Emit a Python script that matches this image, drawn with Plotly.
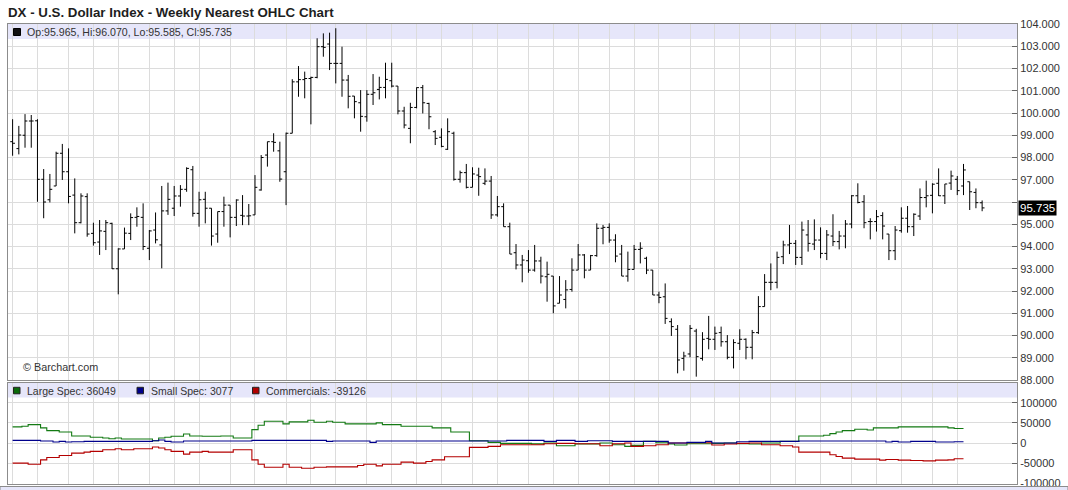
import plotly.graph_objects as go
import pandas as pd

# ---------------- data ----------------
start_date = "2016-01-04"
n_weeks = 157
week_dates = pd.date_range(start_date, periods=n_weeks, freq="7D")

open_ = [98.71, 98.40, 99.00, 99.64, 99.65, 97.02, 96.10, 96.72, 98.19, 97.36,
         96.31, 95.07, 96.24, 94.59, 94.20, 94.68, 95.04, 93.00, 93.89, 94.59,
         95.31, 95.31, 93.92, 94.74, 94.07, 95.60, 95.72, 96.27, 96.57, 97.45,
         95.49, 96.12, 95.72, 94.56, 95.57, 95.86, 95.31, 95.40, 95.37, 95.42,
         96.54, 98.11, 98.71, 98.30, 97.36, 99.09, 101.40, 101.50, 101.55, 101.60,
         102.98, 103.10, 102.23, 102.23, 101.48, 100.76, 100.46, 99.83, 100.84, 101.06,
         101.15, 101.45, 101.21, 100.09, 99.31, 100.25, 101.14, 100.43, 99.16, 98.91,
         98.37, 99.09, 97.02, 97.32, 96.66, 97.21, 96.84, 96.94, 95.42, 95.79,
         94.89, 93.72, 93.17, 93.36, 92.94, 93.35, 92.64, 92.67, 91.45, 91.62,
         92.07, 92.94, 93.62, 92.94, 93.59, 94.82, 94.86, 94.29, 93.66, 92.67,
         92.97, 93.87, 93.47, 92.94, 91.82, 91.74, 90.62, 90.28, 88.97, 89.17,
         90.20, 88.97, 89.87, 89.83, 90.13, 89.72, 89.02, 89.65, 89.83, 89.47,
         90.13, 91.30, 92.39, 92.39, 93.54, 94.07, 94.14, 93.51, 94.52, 94.11,
         94.29, 93.69, 94.47, 94.22, 94.47, 95.01, 96.28, 96.01, 95.12, 95.12,
         95.39, 94.56, 93.81, 94.71, 95.27, 94.89, 95.37, 96.20, 96.30, 96.84,
         96.28, 96.85, 97.02, 96.72, 96.91, 96.43, 95.965]

high = [99.72, 99.42, 99.95, 99.91, 99.72, 97.48, 97.26, 98.26, 98.61, 98.41,
        97.06, 96.39, 96.39, 95.07, 95.19, 95.19, 95.07, 93.92, 94.85, 95.49,
        95.76, 95.94, 94.74, 95.53, 96.72, 96.87, 96.72, 96.76, 97.56, 97.62,
        96.46, 96.46, 95.72, 95.57, 96.24, 95.86, 96.12, 96.31, 95.91, 97.21,
        98.11, 98.71, 99.09, 98.71, 99.12, 101.52, 102.11, 101.86, 101.63, 103.36,
        103.58, 103.61, 103.81, 102.98, 101.71, 100.76, 101.03, 101.03, 101.75, 101.63,
        102.26, 102.26, 101.21, 100.28, 100.46, 101.15, 101.26, 100.46, 99.23, 99.31,
        99.76, 99.16, 97.41, 97.71, 97.56, 97.54, 97.51, 97.17, 96.27, 95.94,
        95.07, 94.11, 93.62, 93.84, 94.07, 93.54, 93.32, 92.67, 92.67, 92.49,
        93.47, 94.11, 93.66, 93.62, 95.04, 94.97, 95.04, 94.55, 94.07, 93.77,
        94.07, 94.19, 93.54, 92.94, 91.97, 92.34, 90.77, 90.47, 89.27, 90.47,
        90.30, 90.15, 90.88, 90.40, 90.40, 90.02, 89.83, 90.28, 89.87, 90.25,
        91.77, 92.76, 93.24, 93.77, 94.26, 94.97, 94.29, 95.12, 95.19, 95.22,
        94.86, 94.74, 95.45, 94.70, 95.19, 96.31, 96.84, 96.31, 95.27, 95.64,
        95.54, 94.56, 94.92, 95.76, 95.82, 95.49, 96.61, 96.96, 96.84, 97.51,
        96.81, 97.41, 97.17, 97.71, 96.91, 96.61, 96.07]

low = [98.08, 98.14, 98.44, 98.44, 96.01, 95.27, 95.98, 96.72, 96.99, 95.94,
       94.59, 95.04, 94.44, 94.04, 93.62, 93.84, 92.99, 91.85, 93.89, 94.29,
       94.89, 93.84, 93.39, 94.14, 93.02, 95.42, 95.37, 95.79, 96.46, 95.34,
       94.89, 95.04, 94.04, 94.17, 94.89, 94.41, 94.92, 94.96, 94.96, 95.42,
       96.51, 97.59, 98.26, 96.91, 95.86, 99.09, 100.73, 100.66, 99.49, 101.56,
       102.53, 101.93, 101.33, 100.73, 100.21, 99.76, 99.16, 99.61, 100.36, 100.61,
       100.66, 101.15, 99.94, 99.31, 98.64, 100.21, 99.98, 99.27, 98.56, 98.46,
       98.34, 96.96, 96.87, 96.61, 96.66, 96.28, 96.76, 95.24, 95.34, 94.89,
       93.66, 92.97, 92.39, 92.82, 92.87, 92.34, 91.52, 91.00, 91.45, 91.22,
       91.97, 92.94, 92.57, 92.94, 93.54, 94.10, 94.17, 93.29, 92.67, 92.42,
       92.97, 93.24, 92.76, 91.82, 91.45, 90.52, 89.98, 88.30, 88.42, 89.02,
       88.15, 88.87, 89.38, 89.35, 89.50, 88.93, 88.52, 89.35, 88.93, 88.93,
       90.07, 91.30, 92.04, 92.12, 93.21, 93.66, 93.17, 93.17, 93.77, 93.84,
       93.47, 93.39, 94.02, 93.87, 93.92, 94.82, 95.94, 94.82, 94.32, 94.67,
       94.32, 93.39, 93.39, 94.62, 94.62, 94.47, 95.19, 95.76, 95.49, 96.27,
       95.91, 96.54, 96.31, 96.31, 95.64, 95.72, 95.585]

close = [98.64, 99.01, 99.64, 99.64, 97.02, 96.00, 96.57, 98.19, 97.36, 96.25,
         95.07, 96.27, 94.56, 94.17, 94.70, 95.07, 93.00, 93.89, 94.60, 95.30,
         95.35, 94.00, 94.70, 94.30, 95.60, 96.12, 96.27, 96.57, 97.51, 95.49,
         96.10, 95.72, 94.47, 95.57, 95.86, 95.31, 96.09, 95.37, 95.38, 96.66,
         98.00, 98.71, 98.68, 97.03, 99.09, 101.40, 101.50, 101.55, 101.60, 102.98,
         102.95, 102.23, 102.23, 101.48, 100.75, 100.51, 99.85, 100.84, 100.91, 101.15,
         101.51, 101.21, 100.09, 99.46, 100.25, 101.14, 100.46, 99.83, 98.86, 98.50,
         99.16, 97.02, 97.32, 96.66, 97.26, 97.14, 96.94, 95.42, 95.79, 94.89,
         93.66, 93.17, 93.39, 92.94, 93.35, 92.67, 92.75, 91.33, 91.82, 92.05,
         92.94, 93.62, 92.94, 93.59, 94.82, 94.86, 94.29, 93.57, 92.67, 92.97,
         93.87, 93.92, 92.94, 91.82, 91.71, 90.77, 90.40, 88.90, 89.08, 90.32,
         89.05, 89.83, 89.83, 90.10, 89.72, 89.02, 89.68, 89.83, 89.47, 90.13,
         91.30, 92.39, 92.39, 93.51, 94.07, 94.14, 93.51, 94.74, 94.14, 94.29,
         93.69, 94.52, 94.22, 94.47, 95.01, 96.28, 95.98, 95.07, 95.12, 95.34,
         94.92, 93.81, 94.74, 95.27, 94.89, 95.45, 96.20, 96.28, 96.80, 96.28,
         96.81, 97.17, 96.51, 97.44, 96.46, 95.97, 95.735]

large_spec = [40000, 40000, 41500, 45800, 45800, 37500, 30800, 30800, 27500, 27500,
              17500, 17500, 17500, 14200, 14200, 12500, 10800, 12500, 10000, 10000,
              10000, 10000, 10000, 5800, 12500, 14200, 16700, 16700, 22500, 17500,
              17500, 16700, 16700, 16700, 17500, 17500, 12500, 12500, 12500, 33300,
              44200, 54200, 54200, 54200, 47500, 52500, 52500, 52500, 56700, 51700,
              51700, 54200, 51700, 51700, 47500, 47500, 47500, 47500, 47500, 50000,
              45800, 45800, 45800, 41700, 41700, 41700, 41700, 41700, 37500, 37500,
              37500, 27500, 27500, 27500, 5800, 5800, 5800, 1700, 1700, -800,
              -800, -800, -800, -800, -2000, -2000, 0, 0, -6700, -6700,
              -6700, -2500, -2500, -2500, -2500, 0, 0, -4200, -4200, -8300,
              -5800, -5800, 4200, 4200, 800, 800, -2500, -5000, -5000, -1700,
              -1700, -1700, -1700, -800, -800, 0, 0, -1700, -1700, -2500,
              -2500, 0, 0, 0, 4200, 4200, 4200, 17500, 17500, 17500,
              17500, 19200, 23300, 27500, 30800, 30800, 34200, 34200, 32500, 37500,
              37500, 37500, 37500, 40000, 40000, 40000, 40000, 40000, 40000, 40000,
              40000, 37500, 36049, 36049]

small_spec = [6700, 6700, 6700, 6700, 6700, 5000, 5000, 2500, 4200, 2500,
              3300, 3300, 4200, 4200, 4200, 4200, 4200, 4200, 4200, 4200,
              4200, 4200, 4200, 5800, 7500, 4200, 2500, 2500, 5000, 5000,
              5000, 5000, 5000, 5000, 5000, 5000, 5000, 5000, 5000, 6700,
              6700, 6700, 6700, 6700, 6700, 6700, 6700, 6700, 6700, 6700,
              6700, 4200, 5000, 5000, 5000, 5000, 5000, 5000, 1700, 5000,
              5000, 5000, 5000, 5000, 5000, 5000, 5000, 5000, 5000, 5000,
              5000, 5000, 5000, 5000, 5000, 5000, 5000, 5000, 5000, 5000,
              6700, 6700, 6700, 6700, 6700, 6700, 4200, 4200, 6700, 6700,
              6700, 4200, 4200, 5800, 5800, 5800, 5800, 4200, 4200, 4200,
              4200, 4200, 4200, 4200, 4200, 4200, 0, 0, 0, 1700,
              1700, 1700, 4200, 0, 0, 0, 0, 3300, 3300, 4200,
              4200, 4200, 4200, 4200, 4200, 4200, 4200, 5000, 5000, 5000,
              5000, 5000, 5000, 5000, 5000, 5000, 5000, 5000, 5000, 5000,
              5000, 2500, 4200, 2500, 2500, 4200, 4200, 4200, 4200, 2500,
              2500, 2500, 3077, 3077]

commercials = [-50000, -50000, -50000, -52500, -52500, -41700, -35800, -35800, -30800, -30800,
               -25000, -25000, -22500, -20800, -20800, -16700, -16700, -14200, -16700, -16700,
               -14200, -14200, -14200, -10000, -12500, -16700, -20800, -20800, -27500, -22500,
               -22500, -20800, -22500, -22500, -22500, -22500, -16700, -16700, -16700, -41700,
               -52500, -60000, -60000, -60000, -52500, -60000, -60000, -62500, -62500, -60000,
               -60000, -59200, -59200, -59200, -59200, -59200, -55800, -52500, -52500, -56700,
               -52500, -52500, -52500, -47500, -47500, -50000, -50000, -45800, -41700, -41700,
               -34200, -34200, -34200, -34200, -10800, -10800, -10800, -8300, -8300, -4200,
               -4200, -4200, -4200, -4200, -4200, -4200, -1700, -1700, -800, -800,
               -800, -1700, -1700, -1700, -1700, -6700, -6700, -1700, -1700, 0,
               -8300, -8300, -6700, -6700, -4200, -4200, 0, 0, 0, 800,
               800, 800, 800, -5000, -5000, -2500, -2500, -800, -800, 0,
               0, -4200, -4200, -4200, -6700, -6700, -10000, -22500, -22500, -22500,
               -22500, -22500, -29200, -33300, -37500, -37500, -40000, -40000, -40000, -40000,
               -42500, -40800, -40800, -42500, -42500, -43300, -43300, -44200, -44200, -42500,
               -42500, -41700, -39126, -39126]

price_tickvals = [88, 89, 90, 91, 92, 93, 94, 95, 96, 97, 98, 99, 100, 101, 102, 103, 104]
# the 96.000 label sits under the last-price box in the reference
price_ticktext = ["88.000", "89.000", "90.000", "91.000", "92.000", "93.000", "94.000",
                  "95.000", "", "97.000", "98.000", "99.000", "100.000", "101.000",
                  "102.000", "103.000", "104.000"]
cot_tickvals = [-100000, -50000, 0, 50000, 100000]
cot_ticktext = ["-100000", "-50000", "0", "50000", "100000"]

title_text = "DX - U.S. Dollar Index - Weekly Nearest OHLC Chart"
ohlc_label = "Op:95.965, Hi:96.070, Lo:95.585, Cl:95.735"
last_price_label = "95.735"
cot_labels = ["Large Spec: 36049", "Small Spec: 3077", "Commercials: -39126"]

# ---------------- geometry helpers ----------------
W, H = 1068, 490
ML, MR, MT, MB = 8, 51, 24, 6
PW, PH = W - ML - MR, H - MT - MB
FONT = "Liberation Sans, Arial, sans-serif"
LAV = "#e6e6fa"
GRID = "#dcdcdc"
FRAME = "#8c8c8c"


def pxx(p):
    return (p - ML) / PW


def pxy(p):
    return (H - MB - p) / PH


bar0_px, bar_step_px = 12.6, 6.215
t0 = week_dates[0]
x_range = [t0 + pd.Timedelta(days=7 * (ML - bar0_px) / bar_step_px),
           t0 + pd.Timedelta(days=7 * (W - MR - bar0_px) / bar_step_px)]

month_starts = [d for k, d in enumerate(week_dates)
                if k == 0 or d.month != week_dates[k - 1].month]

fig = go.Figure()

fig.add_trace(go.Ohlc(
    x=week_dates, open=open_, high=high, low=low, close=close,
    increasing=dict(line=dict(color="#000000", width=1)),
    decreasing=dict(line=dict(color="#000000", width=1)),
    tickwidth=0.38, xaxis="x", yaxis="y", hoverinfo="skip", showlegend=False,
))

cot_dates = week_dates[:len(large_spec)]
for vals, col in [(large_spec, "#137a13"), (commercials, "#b40000"), (small_spec, "#00008c")]:
    fig.add_trace(go.Scatter(
        x=cot_dates, y=vals, mode="lines",
        line=dict(color=col, width=1.1, shape="hvh"),
        xaxis="x2", yaxis="y2", hoverinfo="skip", showlegend=False,
    ))

axis_common = dict(showline=True, mirror=True, linecolor=FRAME, linewidth=1,
                   showgrid=True, gridcolor=GRID, gridwidth=1, zeroline=False)

fig.update_layout(
    width=W, height=H,
    margin=dict(l=ML, r=MR, t=MT, b=MB, pad=0, autoexpand=False),
    paper_bgcolor="white", plot_bgcolor="white",
    font=dict(family=FONT, color="#333333", size=11),
    showlegend=False,
    title=dict(text="<b>" + title_text + "</b>", x=8 / W, xanchor="left",
               y=1 - 12 / H, yanchor="middle", xref="container", yref="container",
               font=dict(family=FONT, size=13.3, color="#1e1e1e")),
    xaxis=dict(type="date", range=x_range, domain=[0, 1], anchor="y",
               tickmode="array", tickvals=month_starts, showticklabels=False, ticks="",
               rangeslider=dict(visible=False), **axis_common),
    xaxis2=dict(type="date", range=x_range, domain=[0, 1], anchor="y2", matches="x",
                tickmode="array", tickvals=month_starts, showticklabels=False, ticks="",
                **axis_common),
    yaxis=dict(domain=[pxy(380), 1], range=[88, 104], side="right", anchor="x",
               tickmode="array", tickvals=price_tickvals, ticktext=price_ticktext,
               ticks="inside", ticklen=5, tickcolor="#666666", tickwidth=1,
               tickfont=dict(family=FONT, size=11, color="#333333"), **axis_common),
    yaxis2=dict(domain=[0, pxy(383)], range=[-101700, 149000], side="right", anchor="x2",
                tickmode="array", tickvals=cot_tickvals, ticktext=cot_ticktext,
                ticks="inside", ticklen=5, tickcolor="#666666", tickwidth=1,
                tickfont=dict(family=FONT, size=11, color="#333333"), **axis_common),
)

shapes = [
    dict(type="rect", xref="paper", yref="paper", x0=0, x1=1, y0=pxy(39), y1=1,
         fillcolor=LAV, line=dict(width=0), layer="between"),
    dict(type="rect", xref="paper", yref="paper", x0=0, x1=1, y0=pxy(397.5), y1=pxy(383),
         fillcolor=LAV, line=dict(width=0), layer="between"),
    dict(type="rect", xref="paper", yref="paper", x0=pxx(0), x1=pxx(1068),
         y0=pxy(492), y1=pxy(486.5), fillcolor=LAV, line=dict(color=FRAME, width=1),
         layer="above"),
    dict(type="rect", xref="paper", yref="paper", x0=pxx(13.5), x1=pxx(20.5),
         y0=pxy(35.5), y1=pxy(28.5), fillcolor="#111111", line=dict(color="#000000", width=1),
         layer="above"),
]
sq_cols = ["#0b6a0b", "#00008b", "#b00000"]
sq_x = [13.5, 137.0, 252.5]
tx_x = [25.0, 148.5, 263.5]
for c, sx in zip(sq_cols, sq_x):
    shapes.append(dict(type="rect", xref="paper", yref="paper", x0=pxx(sx), x1=pxx(sx + 6.5),
                       y0=pxy(393.8), y1=pxy(387.3), fillcolor=c,
                       line=dict(color="#222222", width=1), layer="above"))
fig.update_layout(shapes=shapes)

ann = [
    dict(text=ohlc_label, xref="paper", yref="paper", x=pxx(25), y=pxy(32),
         xanchor="left", yanchor="middle", showarrow=False,
         font=dict(family=FONT, size=10.6, color="#333333")),
    dict(text="© Barchart.com", xref="paper", yref="paper", x=pxx(20.5), y=pxy(366.7),
         xanchor="left", yanchor="middle", showarrow=False,
         font=dict(family=FONT, size=10.8, color="#333333")),
    dict(text=last_price_label, xref="paper", yref="y", x=pxx(1018), y=close[-1],
         xanchor="left", yanchor="middle", showarrow=False, bgcolor="#000000",
         borderpad=1, font=dict(family=FONT, size=11.5, color="#ffffff")),
]
for t, tx in zip(cot_labels, tx_x):
    ann.append(dict(text=t, xref="paper", yref="paper", x=pxx(tx), y=pxy(390.5),
                    xanchor="left", yanchor="middle", showarrow=False,
                    font=dict(family=FONT, size=10.5, color="#333333")))
fig.update_layout(annotations=ann)

fig.write_html("out.html", config={"displayModeBar": False},
               post_script="document.body.style.margin='0px';")
